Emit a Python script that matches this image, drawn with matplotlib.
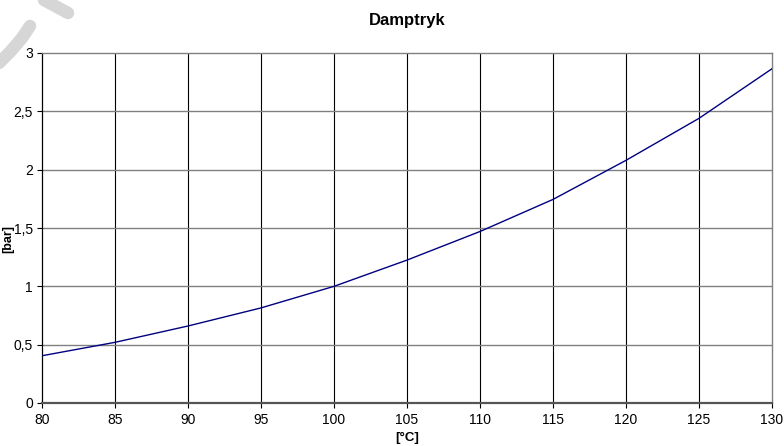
import matplotlib
matplotlib.use("Agg")
import matplotlib.pyplot as plt
from matplotlib.lines import Line2D
import numpy as np

# Data
temperature_c = [80, 85, 90, 95, 100, 105, 110, 115, 120, 125, 130]
pressure_bar = [0.405, 0.52, 0.66, 0.815, 1.0, 1.225, 1.47, 1.745, 2.08, 2.44, 2.865]

x_ticks = [80, 85, 90, 95, 100, 105, 110, 115, 120, 125, 130]
y_ticks = [0, 0.5, 1, 1.5, 2, 2.5, 3]
y_tick_labels = ["0", "0,5", "1", "1,5", "2", "2,5", "3"]

title = "Damptryk"
x_label = "[°C]"
y_label = "[bar]"

plt.rcParams['font.family'] = ['Liberation Sans', 'DejaVu Sans']

W, H = 784, 446
fig = plt.figure(figsize=(W / 100, H / 100), dpi=100)
fig.patch.set_facecolor("white")

left, right, top, bottom = 42, 772, 53, 403
ax = fig.add_axes([left / W, 1 - bottom / H, (right - left) / W, (bottom - top) / H])

ax.plot(temperature_c, pressure_bar, color="#000080", lw=1.0, zorder=3)

ax.set_xlim(80, 130)
ax.set_ylim(0, 3)
ax.set_xticks(x_ticks)
ax.set_xticklabels([str(v) for v in x_ticks])
ax.set_yticks(y_ticks)
ax.set_yticklabels(y_tick_labels)

# grid: vertical black, horizontal grey
for xv in x_ticks[1:-1]:
    ax.axvline(xv, color="black", lw=0.8, zorder=1)
for yv in y_ticks[1:-1]:
    ax.axhline(yv, color="#808080", lw=1.0, zorder=1)

for s in ["top", "right"]:
    ax.spines[s].set_color("#808080")
    ax.spines[s].set_linewidth(1.0)
ax.spines["left"].set_color("black")
ax.spines["left"].set_linewidth(0.9)
ax.spines["bottom"].set_color("#555555")
ax.spines["bottom"].set_linewidth(1.6)

ax.tick_params(axis="both", direction="out", length=3.5, width=0.8,
               color="black", labelsize=10, pad=3)
ax.tick_params(axis="x", pad=4)

ax.set_title(title, fontsize=12, fontweight="bold", pad=20)
ax.set_xlabel(x_label, fontsize=9.5, fontweight="bold", labelpad=3.5)
ax.set_ylabel(y_label, fontsize=9, fontweight="bold")
ax.yaxis.set_label_coords(-0.038, 0.47)

# faint watermark strokes in top-left corner
fig.add_artist(Line2D([30 / W, 22 / W, 10 / W, -2 / W],
                      [1 - 26 / H, 1 - 38 / H, 1 - 52 / H, 1 - 64 / H],
                      transform=fig.transFigure, color="#d6d6d6", lw=9,
                      solid_capstyle="round", zorder=0))
fig.add_artist(Line2D([44 / W, 68 / W], [1 - 0 / H, 1 - 13 / H],
                      transform=fig.transFigure, color="#d6d6d6", lw=9,
                      solid_capstyle="round", zorder=0))

fig.savefig("out.png", dpi=100, facecolor="white")
